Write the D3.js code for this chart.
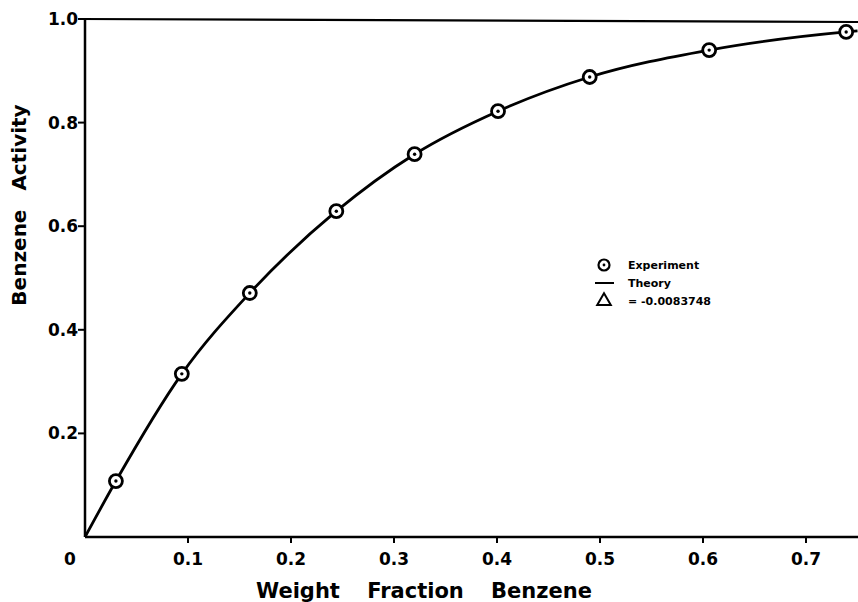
<!DOCTYPE html>
<html lang="en">
<head>
<meta charset="UTF-8">
<title>Benzene Activity</title>
<script src="https://d3js.org/d3.v7.min.js"></script>
<style>
    body { margin: 0; background: #fff; }
    svg { display: block; }
    text { font-family: 'DejaVu Sans', Arial, sans-serif; font-weight: bold; fill: #000; }
</style>
</head>
<body>
<div id="chart"></div>
<script>
    // experimental points
    const expX = [0.030, 0.094, 0.160, 0.244, 0.320, 0.401, 0.490, 0.606, 0.739];
    const expY = [0.108, 0.315, 0.471, 0.629, 0.739, 0.822, 0.888, 0.940, 0.975];
    // theory curve
    const theoryX = [0, 0.030, 0.094, 0.160, 0.244, 0.320, 0.401, 0.490, 0.606, 0.739, 0.750];
    const theoryY = [0, 0.108, 0.315, 0.471, 0.629, 0.739, 0.822, 0.888, 0.940, 0.975, 0.977];
    const xTicks = [0.1, 0.2, 0.3, 0.4, 0.5, 0.6, 0.7];
    const yTicks = [0.2, 0.4, 0.6, 0.8, 1.0];
    const legendItems = ["Experiment", "Theory", "= -0.0083748"];

    const width = 858, height = 602;
    const x = d3.scaleLinear().domain([0, 0.75]).range([85, 857.5]);
    const y = d3.scaleLinear().domain([0, 1]).range([537, 19]);

    const svg = d3.select("#chart").append("svg")
        .attr("width", width)
        .attr("height", height);

    // axes
    svg.append("line")
        .attr("x1", x(0)).attr("x2", x(0))
        .attr("y1", y(1)).attr("y2", y(0))
        .attr("stroke", "#000").attr("stroke-width", 2.5);
    svg.append("line")
        .attr("x1", x(0)).attr("x2", width)
        .attr("y1", y(0)).attr("y2", y(0))
        .attr("stroke", "#000").attr("stroke-width", 2.5);
    svg.append("line")
        .attr("x1", x(0) - 6).attr("x2", width)
        .attr("y1", y(1)).attr("y2", y(1) + 3)
        .attr("stroke", "#000").attr("stroke-width", 2.2);

    // x ticks
    svg.selectAll(".xt").data(xTicks).enter().append("line")
        .attr("x1", d => x(d)).attr("x2", d => x(d))
        .attr("y1", y(0)).attr("y2", y(0) + 6)
        .attr("stroke", "#000").attr("stroke-width", 2);
    svg.selectAll(".xl").data(xTicks).enter().append("text")
        .attr("x", d => x(d))
        .attr("y", y(0) + 28)
        .attr("text-anchor", "middle")
        .style("font-size", "17px")
        .text(d => d.toFixed(1));
    svg.append("text")
        .attr("x", 70).attr("y", y(0) + 28)
        .attr("text-anchor", "middle")
        .style("font-size", "17px")
        .text("0");

    // y ticks
    svg.selectAll(".yt").data(yTicks).enter().append("line")
        .attr("x1", x(0) - 7).attr("x2", x(0))
        .attr("y1", d => y(d)).attr("y2", d => y(d))
        .attr("stroke", "#000").attr("stroke-width", 2);
    svg.selectAll(".yl").data(yTicks).enter().append("text")
        .attr("x", x(0) - 7)
        .attr("y", d => y(d))
        .attr("dy", "0.35em")
        .attr("text-anchor", "end")
        .style("font-size", "17px")
        .text(d => d.toFixed(1));

    // axis titles
    svg.append("text")
        .attr("x", 424).attr("y", 598)
        .attr("text-anchor", "middle")
        .style("font-size", "21px")
        .style("word-spacing", "20px")
        .text("Weight Fraction Benzene");
    svg.append("text")
        .attr("transform", "translate(26,205) rotate(-90)")
        .attr("text-anchor", "middle")
        .style("font-size", "20px")
        .style("word-spacing", "12px")
        .text("Benzene Activity");

    // theory curve
    const line = d3.line()
        .x(d => x(d[0]))
        .y(d => y(d[1]))
        .curve(d3.curveMonotoneX);
    svg.append("path")
        .datum(theoryX.map((v, i) => [v, theoryY[i]]))
        .attr("d", line)
        .attr("fill", "none")
        .attr("stroke", "#000")
        .attr("stroke-width", 2.8);

    // experiment markers
    const pts = svg.selectAll(".pt").data(expX.map((v, i) => [v, expY[i]])).enter().append("g")
        .attr("transform", d => `translate(${x(d[0])},${y(d[1])})`);
    pts.append("circle").attr("r", 6.5)
        .attr("fill", "#fff").attr("stroke", "#000").attr("stroke-width", 2.8);
    pts.append("circle").attr("r", 1.7).attr("fill", "#000");

    // legend
    const lg = svg.append("g");
    lg.append("circle").attr("cx", 604).attr("cy", 265).attr("r", 5.5)
        .attr("fill", "#fff").attr("stroke", "#000").attr("stroke-width", 2.2);
    lg.append("circle").attr("cx", 604).attr("cy", 265).attr("r", 1.4).attr("fill", "#000");
    lg.append("line").attr("x1", 595).attr("x2", 614).attr("y1", 283).attr("y2", 283)
        .attr("stroke", "#000").attr("stroke-width", 2);
    lg.append("path")
        .attr("d", d3.symbol().type(d3.symbolTriangle).size(80)())
        .attr("transform", "translate(604,301)")
        .attr("fill", "none").attr("stroke", "#000").attr("stroke-width", 2);
    lg.selectAll(".lt").data(legendItems).enter().append("text")
        .attr("x", 628)
        .attr("y", (d, i) => 265 + i * 18)
        .attr("dy", "0.35em")
        .style("font-size", "11px")
        .text(d => d);
</script>
</body>
</html>
